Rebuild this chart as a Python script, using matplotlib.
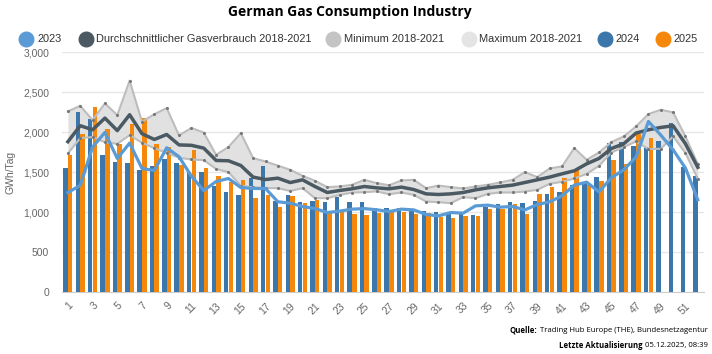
import matplotlib.pyplot as plt
from matplotlib.lines import Line2D
import numpy as np

weeks = np.arange(1, 53)

gas_2024 = [1550, 2250, 2163, 1708, 1625, 1608, 1533, 1579, 1658, 1617,
            1500, 1508, 1333, 1250, 1213, 1433, 1575, 1142, 1213, 1129,
            1142, 1129, 1192, 1133, 1129, 1054, 1054, 1054, 1029, 1017,
            1000, 979, 979, 971, 1063, 1100, 1129, 1121, 1142, 1225,
            1250, 1338, 1383, 1438, 1867, 1871, 1829, 1808, 1892, 2113,
            1563, 1454]

gas_2025 = [1708, 1979, 2312, 2037, 1854, 2096, 2171, 1854, 1808, 1588,
            1775, 1546, 1454, 1371, 1396, 1175, 1217, 1063, 1204, 1113,
            1158, 988, 1013, 979, 963, 988, 1025, 1008, 983, 996,
            942, 933, 950, 958, 1038, 1038, 1100, 979, 1233, 1317,
            1433, 1529, 1338, 1388, 1646, 1604, 1975, 1929]

gas_2023 = [1246, 1335, 1813, 1996, 1671, 1863, 1546, 1521, 1804, 1692,
            1450, 1271, 1383, 1421, 1308, 1296, 1296, 1130, 1113, 1071,
            1046, 996, 1013, 1038, 1045, 1030, 1008, 1038, 1029, 971,
            954, 996, 988, 1079, 1088, 1063, 1071, 1029, 1096, 1129,
            1204, 1338, 1375, 1254, 1430, 1529, 1688, 2133, 1963, 1779,
            1550, 1154]

avg_1821 = [1880, 2080, 2029, 2175, 2019, 2217, 1980, 1908, 1970, 1840,
            1835, 1800, 1646, 1642, 1583, 1438, 1408, 1425, 1370, 1404,
            1321, 1246, 1271, 1292, 1321, 1304, 1292, 1313, 1283, 1229,
            1221, 1229, 1246, 1279, 1304, 1321, 1338, 1371, 1404, 1438,
            1479, 1517, 1604, 1671, 1795, 1854, 1988, 2029, 2058, 2079,
            1854, 1560]

max_1821 = [2258, 2329, 2150, 2358, 2212, 2642, 2130, 2223, 2300, 1958,
            2052, 1994, 1717, 1813, 1988, 1675, 1633, 1581, 1529, 1454,
            1392, 1313, 1321, 1342, 1404, 1363, 1336, 1396, 1404, 1300,
            1333, 1313, 1296, 1321, 1342, 1371, 1404, 1500, 1438, 1546,
            1571, 1800, 1654, 1746, 1875, 1946, 2071, 2225, 2279, 2246,
            1946, 1600]

min_1821 = [1733, 1925, 1938, 1873, 1854, 1962, 1867, 1800, 1740, 1680,
            1658, 1650, 1540, 1500, 1330, 1310, 1300, 1300, 1265, 1300,
            1175, 1175, 1215, 1245, 1250, 1260, 1225, 1246, 1217, 1133,
            1125, 1113, 1188, 1175, 1229, 1246, 1246, 1258, 1279, 1354,
            1379, 1421, 1479, 1579, 1745, 1813, 1883, 1788, 1792, 1946,
            1738, 1417]

c2023 = '#5b9bd5'
cavg = '#4a5962'
cmin = '#c4c4c4'
cmax = '#e4e4e4'
c2024 = '#3b77aa'
c2025 = '#f5870a'

W, H = 712, 354
fig = plt.figure(figsize=(W / 100, H / 100), dpi=100)
ax = fig.add_axes([61.7 / W, 1 - 292.3 / H, (704 - 61.7) / W, (292.3 - 52) / H])

bw = 0.36
ax.bar(weeks - 0.19, gas_2024, width=bw, color=c2024, zorder=3)
ax.bar(weeks[:len(gas_2025)] + 0.19, gas_2025, width=bw, color=c2025, zorder=3)

ax.fill_between(weeks, min_1821, max_1821, color='#dcdcdc', alpha=0.85, zorder=2, lw=0)
for s in (min_1821, max_1821):
    ax.plot(weeks, s, color='#bdbdbd', lw=1.5, zorder=4,
            marker='o', markersize=2.2, markerfacecolor='#777777', markeredgewidth=0)
ax.plot(weeks, avg_1821, color=cavg, lw=2.5, zorder=5)
ax.plot(weeks, gas_2023, color=c2023, lw=2.3, zorder=6)

ax.set_xlim(0.5, 52.5)
ax.set_ylim(0, 3000)
ax.set_yticks(range(0, 3001, 500))
ax.set_yticklabels([f'{v:,}' for v in range(0, 3001, 500)])
ax.set_xticks(range(1, 52, 2))
ax.set_xticklabels([str(i) for i in range(1, 52, 2)], rotation=45, ha='right',
                   rotation_mode='anchor')
ax.tick_params(axis='both', length=0, labelsize=7.5, labelcolor='#666666')
ax.tick_params(axis='y', pad=9)
ax.tick_params(axis='x', pad=6)
for lab in ax.get_xticklabels() + ax.get_yticklabels():
    lab.set_fontfamily('Liberation Sans')
ax.yaxis.grid(True, color='#e6e6e6', lw=1)
ax.set_axisbelow(True)
for sp in ('top', 'right', 'left'):
    ax.spines[sp].set_visible(False)
ax.spines['bottom'].set_color('#cccccc')

fig.text(10 / W, 1 - 172 / H, 'GWh/Tag', rotation=90, ha='center', va='center',
         fontsize=7.5, color='#666666', family='Liberation Sans')

fig.text(350 / W, 1 - 12 / H, 'German Gas Consumption Industry', ha='center', va='center',
         fontsize=10, fontweight='bold', family='Open Sans', color='#000000')

# legend, placed by hand
legend_items = [('2023', c2023, 26, 37), ('Durchschnittlicher Gasverbrauch 2018-2021', cavg, 86, 96),
                ('Minimum 2018-2021', cmin, 333, 344), ('Maximum 2018-2021', cmax, 469, 479),
                ('2024', c2024, 605, 616), ('2025', c2025, 663, 674)]
ly = 1 - 38.5 / H
for label, col, cx, tx in legend_items:
    fig.add_artist(Line2D([cx / W], [ly], marker='o', markersize=10.5, color=col,
                          linestyle='none', transform=fig.transFigure))
    fig.text(tx / W, ly, label, ha='left', va='center', fontsize=7.9, color='#333333',
             family='Liberation Sans')

# footer with bold lead-in
renderer = fig.canvas.get_renderer()
for bold, normal, y in [('Quelle:', 'Trading Hub Europe (THE), Bundesnetzagentur', 330.5),
                        ('Letzte Aktualisierung', '05.12.2025, 08:39', 345)]:
    t = fig.text(708 / W, 1 - y / H, normal, ha='right', va='center', fontsize=5.6,
                 family='Open Sans', color='#000000')
    bb = t.get_window_extent(renderer)
    fig.text((bb.x0 - 2.5) / W, 1 - y / H, bold, ha='right', va='center', fontsize=5.6,
             family='Open Sans', fontweight='bold', color='#000000')

fig.savefig('out.png', dpi=100)
